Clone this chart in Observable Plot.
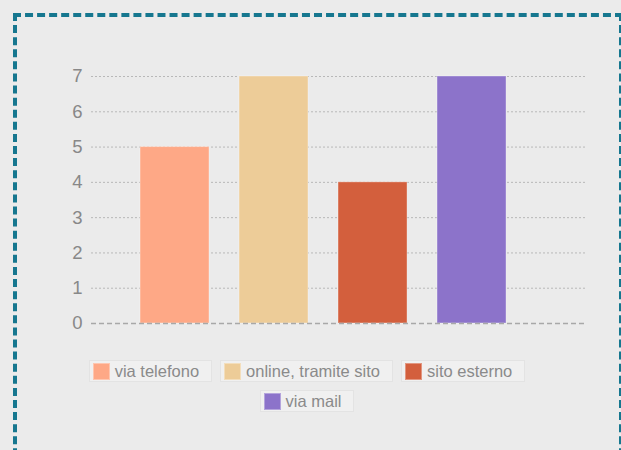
<!DOCTYPE html>
<html>
<head>
<meta charset="utf-8">
<script src="https://cdn.jsdelivr.net/npm/d3@7"></script>
<script src="https://cdn.jsdelivr.net/npm/@observablehq/plot@0.6"></script>
<style>
  html, body { margin: 0; padding: 0; background: #ebebeb; width: 621px; height: 450px; overflow: hidden; font-family: "Liberation Sans", Arial, sans-serif; }
  #frame { position: absolute; left: 13px; top: 13px; width: 602px; height: 520px; border: 4px dashed #16778f; }
  #chart { position: absolute; left: 0; top: 0; }
  #legend { position: absolute; left: 80px; top: 360px; width: 454px; display: flex; flex-wrap: wrap; justify-content: center; gap: 8px 8px; }
  .item { display: flex; align-items: center; height: 18px; padding: 1px 12px 1px 3px; background: #f0f0f0; border: 1px solid #e3e3e3; font-size: 16.5px; color: #8a8a8a; }
  .sw { width: 17px; height: 17px; margin-right: 5px; box-sizing: border-box; border: 1px solid rgba(255,255,255,0.35); }
</style>
</head>
<body>
<div id="frame"></div>
<div id="chart"></div>
<div id="legend"></div>
<script>
const categories = ["via telefono", "online, tramite sito", "sito esterno", "via mail"];
const values = [5, 7, 4, 7];
const colors = ["#fea886", "#edcc98", "#d35f3d", "#8c73ca"];
const yTicks = [0, 1, 2, 3, 4, 5, 6, 7];

const data = categories.map((c, i) => ({category: c, value: values[i], color: colors[i]}));

const plot = Plot.plot({
  width: 621,
  height: 340,
  marginTop: 76,
  marginBottom: 17,
  marginLeft: 91,
  marginRight: 36,
  style: {background: "transparent", fontFamily: "'Liberation Sans', Arial, sans-serif"},
  x: {domain: categories, paddingInner: 0.303, paddingOuter: 0.6465, align: 0.383, round: false, axis: null},
  y: {domain: [0, 7], ticks: yTicks, label: null},
  marks: [
    Plot.ruleY(yTicks.filter(d => d > 0), {stroke: "#b8b8b8", strokeDasharray: "2,2", strokeWidth: 1}),
    Plot.barY(data, {x: "category", y: "value", fill: "color", stroke: "#ffffff", strokeOpacity: 0.35, strokeWidth: 1}),
    Plot.ruleY([0], {stroke: "#a8a8a8", strokeDasharray: "5,3", strokeWidth: 1.5}),
    Plot.axisY({ticks: yTicks, tickFormat: "d", label: null, tickSize: 0, tickPadding: 9, fontSize: 18.5, fill: "#888", stroke: null})
  ]
});
document.getElementById("chart").appendChild(plot);

const legend = document.getElementById("legend");
data.forEach(d => {
  const it = document.createElement("div");
  it.className = "item";
  const sw = document.createElement("span");
  sw.className = "sw";
  sw.style.background = d.color;
  const tx = document.createElement("span");
  tx.textContent = d.category;
  it.appendChild(sw);
  it.appendChild(tx);
  legend.appendChild(it);
});
</script>
</body>
</html>
